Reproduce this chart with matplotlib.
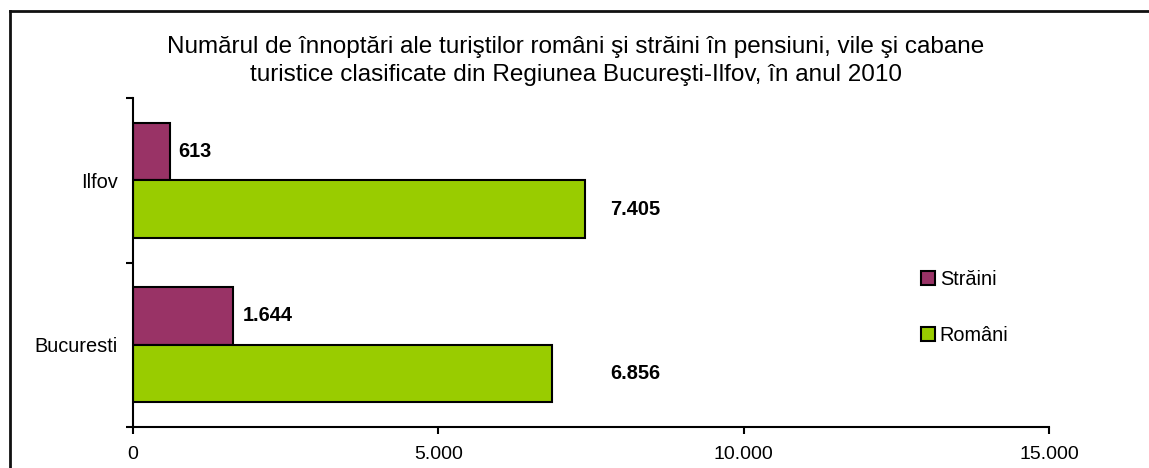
import matplotlib
matplotlib.use("Agg")
import matplotlib.pyplot as plt
from matplotlib.patches import Patch
from matplotlib.lines import Line2D
import numpy as np

plt.rcParams['font.family'] = ['Liberation Sans', 'DejaVu Sans']

categories = ["Bucuresti", "Ilfov"]
straini = [1644, 613]
romani = [6856, 7405]
series_names = ["Străini", "Români"]
x_ticks = [0, 5000, 10000, 15000]
x_tick_labels = ["0", "5.000", "10.000", "15.000"]
title = ("Numărul de înnoptări ale turiştilor români şi străini în pensiuni, vile şi cabane\n"
         "turistice clasificate din Regiunea Bucureşti-Ilfov, în anul 2010")

def fmt(v):
    return f"{v:,}".replace(",", ".")

W, H = 1149, 468
fig = plt.figure(figsize=(W / 100, H / 100), dpi=100)
ax = fig.add_axes([133 / W, (H - 427) / H, (1049 - 133) / W, (427 - 98) / H])

purple = "#993366"
green = "#99CC00"
bh = 0.35
y = np.arange(len(categories))
b_s = ax.barh(y + bh / 2, straini, height=bh, color=purple, edgecolor="black", linewidth=1.5)
b_r = ax.barh(y - bh / 2, romani, height=bh, color=green, edgecolor="black", linewidth=1.5)

# data labels with their own horizontal offsets (pixels)
label_offsets_s = [9, 8]
label_offsets_r = [59, 25]
for rect, v, off in zip(b_s, straini, label_offsets_s):
    ax.annotate(fmt(v), (rect.get_width(), rect.get_y() + rect.get_height() / 2),
                xytext=(off * 0.72, 0), textcoords="offset points",
                ha="left", va="center", fontsize=14.4, fontweight="bold")
for rect, v, off in zip(b_r, romani, label_offsets_r):
    ax.annotate(fmt(v), (rect.get_width(), rect.get_y() + rect.get_height() / 2),
                xytext=(off * 0.72, 0), textcoords="offset points",
                ha="left", va="center", fontsize=14.4, fontweight="bold")

ax.set_xlim(0, 15000)
ax.set_ylim(-0.5, len(categories) - 0.5)
ax.set_xticks(x_ticks)
ax.set_xticklabels(x_tick_labels, fontsize=14)
ax.set_yticks(np.arange(-0.5, len(categories), 1.0))
ax.set_yticklabels([])
ax.set_yticks(y, minor=True)
ax.set_yticklabels(categories, minor=True, fontsize=14.4)
ax.tick_params(axis="y", which="major", length=5, width=1.5, direction="out")
ax.tick_params(axis="y", which="minor", length=0, pad=11)
ax.tick_params(axis="x", which="major", length=5, width=1.5, direction="out", pad=9)
for s in ["top", "right"]:
    ax.spines[s].set_visible(False)
for s in ["left", "bottom"]:
    ax.spines[s].set_linewidth(1.5)
    ax.spines[s].set_color("black")

fig.text(0.5 + 1 / W, 1 - 61 / H, title, ha="center", va="center", fontsize=17.5,
         linespacing=1.38)

handles = [Patch(facecolor=purple, edgecolor="black", linewidth=1.5),
           Patch(facecolor=green, edgecolor="black", linewidth=1.5)]
leg = fig.legend(handles, series_names, loc="upper left",
                 bbox_to_anchor=(911 / W, 1 - 260 / H), frameon=False,
                 fontsize=14.3, handlelength=0.7, handleheight=0.7,
                 handletextpad=0.25, labelspacing=1.87, borderpad=0)

# figure border (only top and left visible in the crop)
top_y = 1 - 11 / H
left_x = 10 / W
fig.add_artist(Line2D([left_x, 1.05], [top_y, top_y], transform=fig.transFigure,
                      color="#111111", linewidth=2, solid_capstyle="projecting"))
fig.add_artist(Line2D([left_x, left_x], [-0.05, top_y], transform=fig.transFigure,
                      color="#111111", linewidth=2, solid_capstyle="projecting"))

fig.savefig("out.png", dpi=100)
